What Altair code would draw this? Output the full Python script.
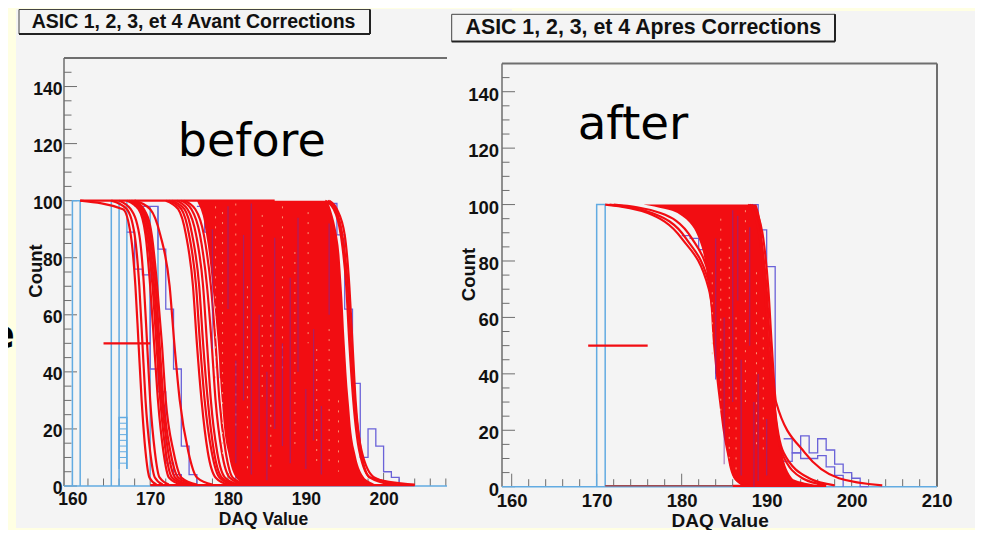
import altair as alt
import pandas as pd

YELLOW = "#ffffe3"
GRAY = "#f4f4f4"
RED = "#f20d12"
LBLUE = "#62abe2"
BLUE = "#6a62d8"
PURPLE = "#7a2a9c"
PALE = "#ffb48c"
FRAME = "#6e6e6e"
FONT = "Liberation Sans"

levels = [100, 97, 88, 70, 50, 30, 12, 3, 0.5]

left_curves = [
    [161.0, 166.5, 167.5, 168.1, 168.5, 168.9, 169.4, 169.9, 170.8],
    [165.0, 167.0, 168.0, 168.6, 169.0, 169.4, 170.0, 170.6, 171.6],
    [166.0, 167.5, 168.6, 169.2, 169.6, 170.0, 170.6, 171.2, 172.4],
    [167.0, 168.5, 169.4, 170.0, 170.5, 171.0, 171.7, 172.4, 174.0],
    [167.3, 168.7, 169.6, 170.3, 170.8, 171.3, 172.0, 172.8, 174.6],
    [167.5, 168.9, 169.8, 170.5, 171.0, 171.5, 172.3, 173.2, 175.0],
    [167.7, 169.0, 170.0, 170.7, 171.2, 171.7, 172.6, 173.6, 175.6],
    [167.9, 169.2, 170.2, 170.9, 171.5, 172.0, 173.0, 174.0, 176.0],
    [168.0, 170.0, 171.3, 172.5, 173.1, 173.8, 174.9, 176.0, 178.0],
    [172.0, 173.6, 174.6, 175.5, 176.0, 176.6, 177.4, 178.4, 180.0],
    [172.4, 174.0, 175.0, 175.9, 176.4, 177.0, 177.9, 178.9, 180.6],
    [172.8, 174.4, 175.4, 176.3, 176.8, 177.4, 178.2, 179.2, 181.0],
    [173.4, 174.8, 175.9, 176.8, 177.3, 177.8, 178.6, 179.6, 181.4],
    [174.0, 175.3, 176.4, 177.3, 177.9, 178.4, 179.2, 180.2, 182.0],
    [174.4, 175.8, 176.9, 177.8, 178.4, 178.9, 179.7, 180.6, 182.4],
    [192.5, 193.6, 194.5, 195.2, 195.6, 196.1, 196.9, 198.3, 204.0],
    [193.0, 194.0, 195.0, 195.6, 196.0, 196.4, 197.1, 198.2, 201.0],
    [192.8, 193.8, 194.7, 195.4, 195.8, 196.3, 197.2, 198.8, 202.0],
]
left_mass_low = [176.0, 176.5, 177.2, 178.0, 178.7, 179.2, 180.0, 181.0, 182.0]
left_mass_high = [192.8, 193.2, 194.0, 194.6, 195.0, 195.5, 196.3, 197.5, 199.0]

right_curves = [
    [171.0, 176.0, 180.0, 183.2, 184.1, 184.7, 185.5, 186.3, 187.4],
    [171.5, 176.5, 180.5, 183.4, 184.2, 184.8, 185.6, 186.5, 187.6],
    [172.0, 177.5, 181.2, 183.6, 184.3, 184.9, 185.7, 186.6, 187.8],
    [188.2, 188.9, 189.6, 190.2, 190.6, 191.1, 194.5, 198.5, 203.6],
    [188.0, 188.6, 189.3, 190.0, 190.4, 190.9, 192.0, 195.0, 198.0],
    [187.8, 188.5, 189.2, 189.8, 190.2, 190.8, 191.8, 194.2, 197.0],
]
right_mass_low = [175.5, 179.5, 182.0, 183.2, 183.7, 184.4, 185.3, 186.1, 187.0]
right_mass_high = [188.8, 189.1, 189.5, 190.0, 190.3, 191.0, 191.8, 193.0, 196.0]

left_red_x = [164.0, 170.0]
left_flat_x = [161.0, 186.0]
left_base_x = [170.0, 204.0]
right_red_x = [169.0, 176.0]
right_base_x = [186.0, 197.0]
right_dark_x = [171.0, 186.0]
mid_y = [50, 50]
top_y = [100, 100]
base_y = [0.3, 0.3]

left_light = [
    ([160, 160, 161, 161], [0, 100, 100, 0]),
    ([165, 165, 166, 166], [0, 100, 100, 0]),
    ([166, 166, 167, 167], [6, 24, 24, 6]),
    ([167, 167], [100, 6]),
    ([170, 170], [98, 3]),
    ([171, 171], [98, 52]),
]
left_hatch = [8, 10, 12, 14, 16, 18, 20, 22]
left_hatch_x = [166, 167]
left_blue = [
    ([168, 169, 170, 171, 172, 173, 174, 175, 176],
     [98, 98, 98, 83, 62, 41, 14, 4, 0]),
    ([167, 168, 169, 170, 171, 172, 173, 174],
     [89, 76, 74, 41, 33, 8, 4, 0]),
    ([193, 194, 195, 196, 197, 198, 199, 200, 201, 202],
     [99, 88, 62, 36, 10, 20, 14, 5, 3, 0]),
    ([176, 177, 178, 179, 180, 181],
     [98, 89, 75, 38, 16, 0]),
]
right_light = [
    ([170, 170, 171, 171], [0, 100, 100, 0]),
]
right_blue = [
    ([192, 193, 194, 195, 196, 197, 198, 199, 200, 201, 202],
     [17, 12, 18, 12, 17, 13, 8, 5, 3, 0, 0]),
    ([192, 193, 194, 195, 196, 197, 198, 199],
     [9, 12, 10, 10, 11, 7, 4, 0]),
    ([180, 181, 182, 183, 184],
     [89, 88, 84, 80, 38]),
    ([187, 188, 189, 190, 191],
     [98, 100, 91, 78, 15]),
]

left_purple = [(180, 98, 62), (182, 88, 30), (183, 99, 4), (184, 60, 12), (186, 87, 20),
               (188, 73, 8), (189, 94, 40), (191, 55, 16), (193, 92, 60), (185, 40, 2),
               (190, 34, 6), (178, 90, 48), (192, 28, 4), (181, 44, 8), (187, 50, 14)]
left_pale = [(178.4, 98, 35), (179.3, 96, 10), (181, 99, 20), (182.5, 70, 6), (184.4, 95, 30),
             (185.5, 60, 5), (187, 98, 40), (188.6, 82, 12), (190.3, 96, 50), (191.4, 48, 6),
             (193, 55, 8), (194.2, 30, 5)]
right_purple = [(184, 88, 40), (185, 60, 8), (186, 98, 30), (187, 45, 4), (188, 92, 50),
                (189, 40, 2), (190, 24, 4), (186.6, 96, 66), (188.5, 30, 0)]
right_pale = [(184.6, 95, 25), (185.6, 85, 10), (186.4, 60, 6), (187.5, 98, 30), (188.8, 76, 14),
              (183.6, 76, 45), (189.6, 60, 12)]

y_major = [0, 20, 40, 60, 80, 100, 120, 140]
y_minor = [5, 10, 15, 25, 30, 35, 45, 50, 55, 65, 70, 75, 85, 90, 95, 105, 110, 115,
           125, 130, 135, 145]
x_major = [160, 170, 180, 190, 200]
x_major_r = [160, 170, 180, 190, 200, 210]
x_minor = [162, 164, 166, 168, 172, 174, 176, 178, 182, 184, 186, 188, 192, 194, 196, 198,
           202, 204, 206, 208]

one = pd.DataFrame({"a": [0]})


def box(x, x2, y, y2, **kw):
    return alt.Chart(one).mark_rect(**kw).encode(
        x=alt.value(x), x2=alt.value(x2), y=alt.value(y), y2=alt.value(y2))


def label(text, x, y, **kw):
    return alt.Chart(one).mark_text(text=text, **kw).encode(x=alt.value(x), y=alt.value(y))


def panel(p):
    xs = alt.Scale(domain=p["xdom"], range=[0, p["w"]], nice=False, zero=False)
    ys = alt.Scale(domain=[0, 150], range=[p["y0"], p["ytop"]], nice=False, zero=False)
    xaxis = alt.Axis(
        values=p["xlabels"], title="DAQ Value", domain=False, ticks=False, grid=False, zindex=1,
        labelFont=FONT, labelFontWeight="bold", labelFontSize=p["lfs"], labelColor="#111",
        labelPadding=4, titleFont=FONT, titleFontWeight="bold", titleFontSize=p["xfs"],
        titleColor="#111", titleX=p["xtx"], titleY=p["xty"], titleBaseline="middle",
        labelFlush=False, labelOverlap=False, format="d")
    yaxis = alt.Axis(
        values=y_major, title="Count", domain=False, ticks=False, grid=False, zindex=1,
        labelFont=FONT, labelFontWeight="bold", labelFontSize=p["lfs"], labelColor="#111",
        labelPadding=p["lp"], labelOffset=2.5, titleFont=FONT, titleFontWeight="bold",
        titleFontSize=18.5, titleColor="#111", titleX=p["ytx"], titleY=p["yty"],
        titleBaseline="middle", labelOverlap=False, labelFlush=False, format="d")
    X = lambda name="x": alt.X(name + ":Q", scale=xs, axis=xaxis, title="DAQ Value")
    Y = lambda name="y": alt.Y(name + ":Q", scale=ys, axis=yaxis, title="Count")

    def curve_df(rows):
        return pd.DataFrame([{"c": i, "i": j, "x": x, "y": l}
                             for i, r in enumerate(rows)
                             for j, (x, l) in enumerate(zip(r, levels))])

    def steps(rows, color, interp, width=1.2):
        df = pd.DataFrame([{"c": i, "i": j, "x": x, "y": y}
                           for i, (xx, yy) in enumerate(rows)
                           for j, (x, y) in enumerate(zip(xx, yy))])
        return alt.Chart(df).mark_line(color=color, strokeWidth=width, interpolate=interp).encode(
            x=X(), y=Y(), detail="c:N", order="i:Q")

    def segs(items, color, width, **kw):
        df = pd.DataFrame(items, columns=["x", "y", "y2"])
        return alt.Chart(df).mark_rule(color=color, strokeWidth=width, **kw).encode(
            x=X(), y=Y(), y2="y2:Q")

    def hline(xx, yy, color, width):
        return alt.Chart(pd.DataFrame({"x": xx, "y": yy})).mark_line(
            color=color, strokeWidth=width).encode(x=X(), y=Y())

    H = p["y0"]
    mass = pd.DataFrame({"lo": p["low"], "hi": p["high"], "y": levels})
    layers = [
        box(-p["bgl"], p["bgr"], p["bgt"], 470, fill=GRAY),
    ]
    if p.get("notch"):
        layers.append(box(-p["bgl"], p["notch"], -49, p["bgt"], fill=GRAY))
    layers += [
        alt.Chart(pd.DataFrame({"y": y_major})).mark_rule(color=FRAME, strokeWidth=1).encode(
            y=Y(), x=alt.value(0), x2=alt.value(13)),
        alt.Chart(pd.DataFrame({"y": y_minor})).mark_rule(color=FRAME, strokeWidth=1).encode(
            y=Y(), x=alt.value(0), x2=alt.value(7.5)),
        alt.Chart(pd.DataFrame({"x": p["xlabels"]})).mark_rule(color=FRAME, strokeWidth=1).encode(
            x=X(), y=alt.value(H), y2=alt.value(H - 13)),
        alt.Chart(pd.DataFrame({"x": x_minor})).mark_rule(color=FRAME, strokeWidth=1).encode(
            x=X(), y=alt.value(H), y2=alt.value(H - 7.5)),
        alt.Chart(one).mark_rule(color=FRAME, strokeWidth=2).encode(
            x=alt.value(0), x2=alt.value(p["w"]), y=alt.value(p["ytop"])),
        alt.Chart(one).mark_rule(color=FRAME, strokeWidth=1.5).encode(
            x=alt.value(0), y=alt.value(p["ytop"]), y2=alt.value(H)),
    ]
    if p.get("right_frame"):
        layers.append(alt.Chart(one).mark_rule(color=FRAME, strokeWidth=2).encode(
            x=alt.value(p["w"]), y=alt.value(p["ytop"]), y2=alt.value(H)))
    layers += [
        alt.Chart(one).mark_rule(color=LBLUE, strokeWidth=1.5).encode(
            x=alt.value(0), x2=alt.value(p["w"]), y=alt.value(H)),
        steps(p["light"], LBLUE, "linear", 1.5),
        steps(p["blue"], BLUE, "step-after", 1.3),
    ]
    if p.get("hatch"):
        hd = pd.DataFrame([{"c": h, "x": x, "y": h} for h in p["hatch"] for x in left_hatch_x])
        layers.append(alt.Chart(hd).mark_line(color=LBLUE, strokeWidth=1).encode(
            x=X(), y=Y(), detail="c:N"))
    if p.get("dark"):
        layers.append(hline(p["dark"], base_y, "#a04a50", 1.5))
    layers += [
        alt.Chart(mass).mark_area(color=RED, orient="horizontal", interpolate="monotone").encode(
            x=alt.X("lo:Q", scale=xs, axis=xaxis, title="DAQ Value"), x2="hi:Q", y=Y()),
        alt.Chart(curve_df(p["curves"])).mark_line(
            color=RED, strokeWidth=2.2, interpolate="monotone").encode(
            x=X(), y=Y(), detail="c:N", order="i:Q"),
        hline(p["redx"], mid_y, RED, 2.2),
        hline(p["base"], base_y, RED, 2.2),
    ]
    if p.get("flat"):
        layers.append(hline(p["flat"], top_y, RED, 2.2))
    layers += [
        segs(p["pale"], PALE, 1, strokeDash=[2, 8], opacity=0.8),
        segs(p["purple"], PURPLE, 1.2, opacity=0.6),
        box(p["tx0"], p["tx1"], p["ty0"], p["ty1"], fill=GRAY, stroke="#444", strokeWidth=1),
        alt.Chart(one).mark_rule(color="#222", strokeWidth=2).encode(
            x=alt.value(p["tx0"]), x2=alt.value(p["tx1"]), y=alt.value(p["ty1"])),
        alt.Chart(one).mark_rule(color="#222", strokeWidth=2).encode(
            x=alt.value(p["tx1"]), y=alt.value(p["ty0"]), y2=alt.value(p["ty1"])),
        label(p["title"], p["ttx"], p["tty"], font=FONT, fontWeight="bold", fontSize=p["tfs"],
              color="#111", align="center", baseline="alphabetic"),
        label(p["word"], p["wx"], p["wy"], font="DejaVu Sans", fontSize=p["wfs"], color="#000",
              align="center", baseline="alphabetic"),
    ]
    return alt.layer(*layers).properties(width=p["w"], height=p["h"])


left = panel(dict(
    xdom=[158.92, 208.15], w=383, h=428, y0=428, ytop=0, bgl=48, bgr=383, bgt=-49,
    xlabels=x_major, xtx=199, xty=33, ytx=-29, yty=212.5, lfs=17.5, xfs=17.5, lp=2,
    low=left_mass_low, high=left_mass_high, curves=left_curves, light=left_light, blue=left_blue,
    hatch=left_hatch, redx=left_red_x, flat=left_flat_x, base=left_base_x,
    pale=left_pale, purple=left_purple,
    tx0=-45, tx1=306, ty0=-48.5, ty1=-24, title="ASIC 1, 2, 3, et 4 Avant Corrections",
    ttx=129.6, tty=-29.7, tfs=19.5, word="before", wx=187.7, wy=98, wfs=46,
))

right = panel(dict(
    xdom=[158.86, 210.04], w=435, h=429, y0=428.7, ytop=5.5, bgl=55, bgr=473, bgt=-47, notch=10,
    right_frame=True,
    xlabels=x_major_r, xtx=217.7, xty=33, ytx=-33.6, yty=216, lfs=18.5, xfs=19, lp=3.5,
    low=right_mass_low, high=right_mass_high, curves=right_curves, light=right_light,
    blue=right_blue, redx=right_red_x, base=right_base_x, dark=right_dark_x,
    pale=right_pale, purple=right_purple,
    tx0=-50.3, tx1=333, ty0=-43.7, ty1=-16.5, title="ASIC 1, 2, 3, et 4 Apres Corrections",
    ttx=141.3, tty=-24.3, tfs=21.3, word="after", wx=131, wy=81, wfs=46.8,
))

strip = (
    alt.Chart(one).mark_text(text="e", clip=True, font="DejaVu Sans", fontSize=40, fontWeight="bold",
                             color="#000", align="right", baseline="alphabetic")
    .encode(x=alt.value(7), y=alt.value(290))
    .properties(width=8, height=428)
)

chart = (
    alt.hconcat(strip, alt.hconcat(left, right, spacing=55, bounds="flush"),
                spacing=48, bounds="flush")
    .properties(background=YELLOW, padding=0)
    .configure_view(stroke=None)
)

chart.save("out.html", embed_options={"renderer": "svg", "actions": False})
